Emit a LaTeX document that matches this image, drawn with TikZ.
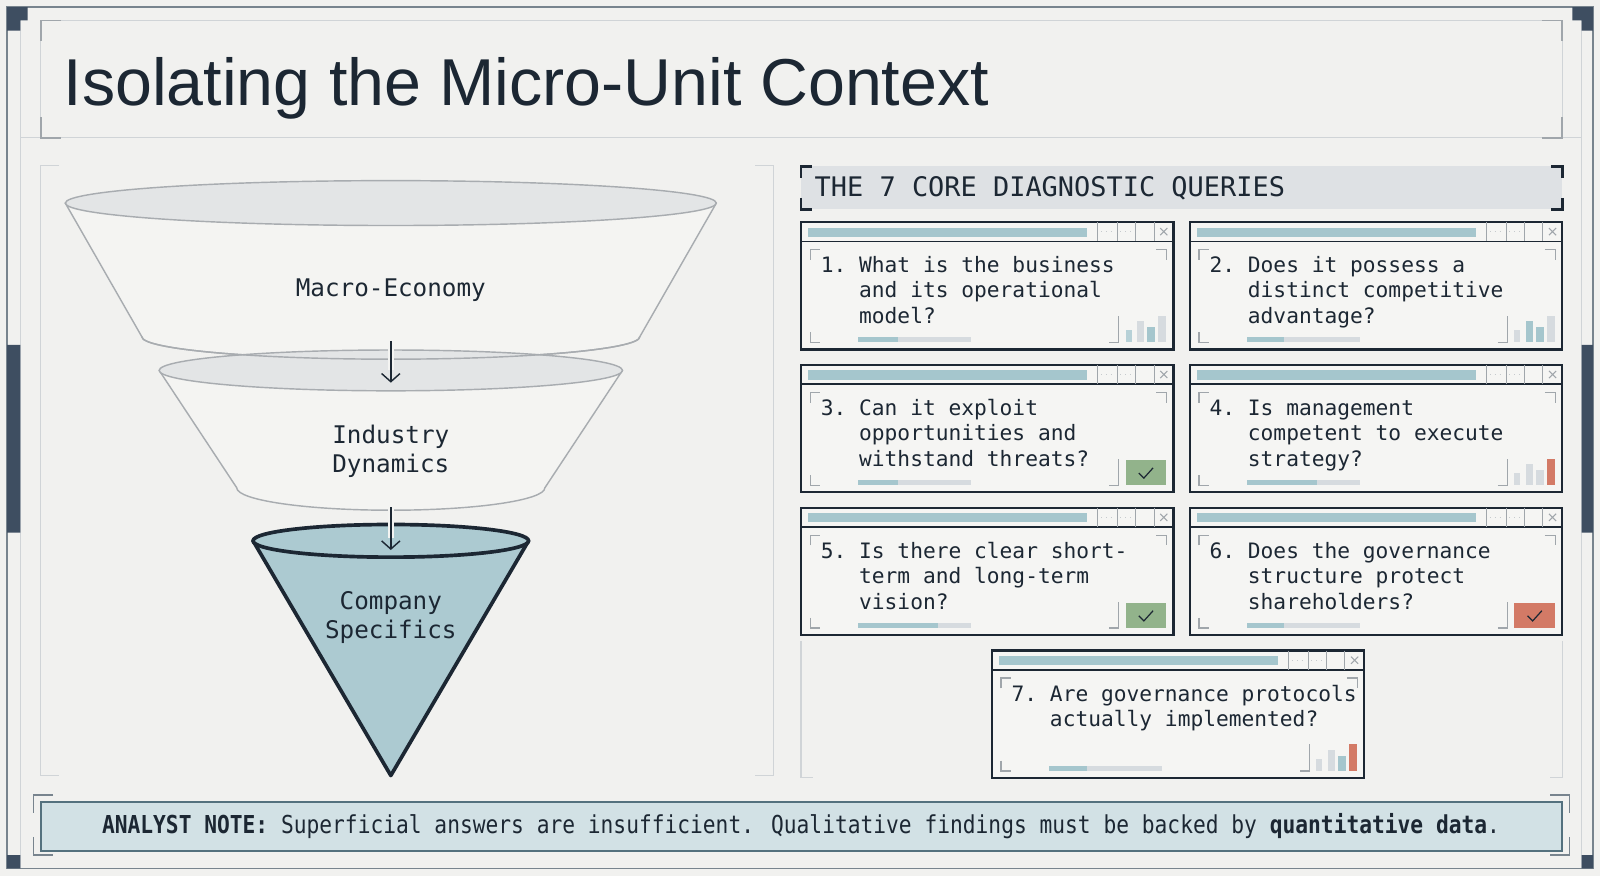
\documentclass[tikz,border=0pt]{standalone}
\usepackage{fontspec}
\setmainfont{Liberation Sans}
\setmonofont{DejaVu Sans Mono}
\newfontfamily\notefont{DejaVu Sans Mono}[FakeStretch=0.86]
\usetikzlibrary{arrows.meta, positioning}
\definecolor{pagebg}{RGB}{241,241,239}
\definecolor{layerfill}{RGB}{244,244,242}
\definecolor{cardbg}{RGB}{245,245,243}
\definecolor{inkdark}{RGB}{28,39,51}
\definecolor{navyblock}{RGB}{62,78,97}
\definecolor{outergray}{RGB}{120,132,142}
\definecolor{framegray}{RGB}{208,212,215}
\definecolor{tickgray}{RGB}{160,166,171}
\definecolor{diskgray}{RGB}{227,229,230}
\definecolor{rimgray}{RGB}{168,172,176}
\definecolor{tealfill}{RGB}{172,202,209}
\definecolor{tealbar}{RGB}{165,198,205}
\definecolor{trackgray}{RGB}{214,219,223}
\definecolor{bandgray}{RGB}{222,225,228}
\definecolor{notefill}{RGB}{210,225,229}
\definecolor{noteedge}{RGB}{84,113,126}
\definecolor{okgreen}{RGB}{146,179,139}
\definecolor{alertred}{RGB}{211,122,102}

% one query window: name, x, y, progress, text rows, corner decor
\newcommand{\querycard}[6]{%
  \begin{scope}[shift={(#2,#3)}]
    \node[cardbox] (#1) at (0,0) {};
    \draw[barline] (0,19) -- (365,19);
    \fill[tealbar] (7,5.5) rectangle (280,14.5);
    \foreach \bx in {291,310,328,346} \draw[btnline] (\bx,0) -- (\bx,19);
    \draw[btndots] (294,9.5) -- (307,9.5) (313,9.5) -- (325,9.5);
    \draw[btnline] (352,6) -- (359,13) (352,13) -- (359,6);
    \draw[cardcorner] (9,37) -- (9,27) -- (19,27);
    \draw[cardcorner] (348,27) -- (358,27) -- (358,37);
    \draw[cardcorner] (9,108) -- (9,118) -- (19,118);
    \draw[cardcorner] (302,118) -- (311,118) -- (311,92);
    \fill[trackgray] (56,113) rectangle (167,118);
    \fill[tealbar] (56,113) rectangle (56+#4,118);
    \node[question] (#1-q) at (19,49.5) {\begin{tabular}[t]{@{}l@{ }l@{}}#5\end{tabular}};
    #6
  \end{scope}}
\newcommand{\cardbars}[4]{%
  \fill[#1] (318,106) rectangle (324,118);
  \fill[#2] (329,97) rectangle (336,118);
  \fill[#3] (339,103) rectangle (347,118);
  \fill[#4] (350,92) rectangle (358,118);}
\newcommand{\cardcheck}[1]{%
  \fill[#1] (318,93) rectangle (358,118);
  \draw[checkline] (331,106) -- (336,111) -- (345,101);}

\begin{document}
\begin{tikzpicture}[x=0.5pt, y=-0.5pt,
    outerline/.style={draw=outergray, line width=0.7pt},
    framebox/.style={draw=framegray, line width=0.6pt},
    cornertick/.style={draw=tickgray, line width=0.8pt},
    darktick/.style={draw=inkdark, line width=1.3pt},
    block/.style={fill=navyblock},
    layer/.style={fill=layerfill, draw=rimgray, line width=0.7pt, line join=round},
    disk/.style={fill=diskgray, draw=rimgray, line width=0.7pt},
    corelayer/.style={fill=tealfill, draw=inkdark, line width=1.8pt, line join=round},
    layertext/.style={font=\ttfamily\fontsize{11.9}{14}\selectfont, text=inkdark, align=center, inner sep=0},
    flow/.style={-{Straight Barb[length=4pt,width=9pt]}, draw=inkdark, line width=0.7pt,
      preaction={draw=layerfill, line width=3pt, shorten >=6pt, -}},
    cardbox/.style={rectangle, draw=inkdark, line width=1.1pt, fill=cardbg, anchor=north west,
      minimum width=182.5pt, minimum height=62.5pt, inner sep=0, outer sep=0},
    barline/.style={draw=inkdark, line width=0.7pt},
    btnline/.style={draw=tickgray, line width=0.5pt},
    btndots/.style={draw=tickgray!60, line width=0.4pt, dotted},
    cardcorner/.style={draw=tickgray, line width=0.6pt},
    checkline/.style={draw=inkdark, line width=0.6pt},
    question/.style={anchor=base west, inner sep=0, text=inkdark, font=\ttfamily\fontsize{10.4}{12.5}\selectfont}
]
    % Page and outer frame
    \fill[pagebg] (0,0) rectangle (1568,858);
    \draw[outerline] (7,7) rectangle (1561,851);
    \draw[framebox] (20,7) -- (20,851) (1550,7) -- (1550,851);
    \fill[block] (7,7) rectangle (27,20) (7,20) rectangle (20,30);
    \fill[block] (1541,7) rectangle (1561,20) (1550,20) rectangle (1561,30);
    \fill[block] (7,838) rectangle (20,851) (1550,838) rectangle (1561,851);
    \fill[block] (7,338) rectangle (20,522) (1550,338) rectangle (1561,522);

    % Title
    \draw[framebox] (40,20) rectangle (1531,135) (20,135) -- (1550,135);
    \draw[cornertick] (40,40) -- (40,20) -- (60,20) (1511,20) -- (1531,20) -- (1531,40);
    \draw[cornertick] (40,115) -- (40,135) -- (60,135) (1511,135) -- (1531,135) -- (1531,115);
    \node[anchor=base west, inner sep=0, text=inkdark, font=\fontsize{32.5}{36}\selectfont] (title) at (62,103) {Isolating the Micro-Unit Context};

    % Panel frames
    \draw[framebox] (58,162) -- (40,162) -- (40,760) -- (58,760);
    \draw[framebox] (740,162) -- (758,162) -- (758,760) -- (740,760);
    \draw[framebox] (785,628) -- (785,762) -- (797,762);
    \draw[framebox] (1531,628) -- (1531,762) -- (1519,762);

    % Funnel
    \path[layer] (64,199) -- (139,330) arc[start angle=180, end angle=360, x radius=122pt, y radius=11pt] -- (702,199) -- cycle;
    \draw[disk] (383,199) ellipse[x radius=159.5pt, y radius=11pt];
    \path[layer] (156,363) -- (232,478) arc[start angle=180, end angle=360, x radius=75.5pt, y radius=11pt] -- (610,363) -- cycle;
    \draw[disk] (383,363) ellipse[x radius=113.5pt, y radius=10pt];
    \draw[draw=rimgray, line width=0.7pt] (139,330) arc[start angle=180, end angle=360, x radius=122pt, y radius=11pt];
    \path[corelayer] (248,530) -- (383,760) -- (518,530) -- cycle;
    \draw[corelayer] (383,530) ellipse[x radius=67.5pt, y radius=8pt];

    \node[layertext] (macro) at (383,284) {Macro-Economy};
    \node[layertext] (industry) at (383,442) {Industry\\Dynamics};
    \node[layertext] (company) at (383,605) {Company\\Specifics};

    \coordinate (flow1a) at (383,334);
    \coordinate (flow1b) at (383,375);
    \coordinate (flow2a) at (383,497);
    \coordinate (flow2b) at (383,539);
    \draw[flow] (flow1a) -- (flow1b);
    \draw[flow] (flow2a) -- (flow2b);

    % Query header
    \fill[bandgray] (785,163) rectangle (1531,205);
    \draw[darktick] (785,174) -- (785,163) -- (796,163) (785,194) -- (785,205) -- (796,205);
    \draw[darktick] (1520,163) -- (1531,163) -- (1531,174) (1531,194) -- (1531,205) -- (1520,205);
    \node[anchor=base west, inner sep=0, text=inkdark, font=\ttfamily\fontsize{13.2}{16}\selectfont] (queries) at (798,193) {THE 7 CORE DIAGNOSTIC QUERIES};

    % Query cards
    \querycard{q1}{785}{217.5}{39}{1. & What is the business\\ & and its operational\\ & model?}{\cardbars{tealbar!80}{trackgray}{tealbar}{trackgray}}
    \querycard{q2}{1166}{217.5}{36}{2. & Does it possess a\\ & distinct competitive\\ & advantage?}{\cardbars{trackgray}{tealbar}{tealbar}{trackgray}}
    \querycard{q3}{785}{357.5}{39}{3. & Can it exploit\\ & opportunities and\\ & withstand threats?}{\cardcheck{okgreen}}
    \querycard{q4}{1166}{357.5}{69}{4. & Is management\\ & competent to execute\\ & strategy?}{\cardbars{trackgray}{trackgray}{trackgray}{alertred}}
    \querycard{q5}{785}{497.5}{78}{5. & Is there clear short-\\ & term and long-term\\ & vision?}{\cardcheck{okgreen}}
    \querycard{q6}{1166}{497.5}{36}{6. & Does the governance\\ & structure protect\\ & shareholders?}{\cardcheck{alertred}}
    \querycard{q7}{972}{637.5}{37}{7. & Are governance protocols\\ & actually implemented?}{\cardbars{trackgray}{trackgray}{tealbar}{alertred}}

    % Analyst note
    \draw[fill=notefill, draw=noteedge, line width=0.8pt] (40,786) rectangle (1531,834);
    \draw[cornertick, draw=outergray] (52,779) -- (33,779) -- (33,797) (33,820) -- (33,838) -- (52,838);
    \draw[cornertick, draw=outergray] (1519,779) -- (1538,779) -- (1538,797) (1538,820) -- (1538,838) -- (1519,838);
    \node[inner sep=0, text=inkdark, font=\notefont\fontsize{12.1}{14}\selectfont] (note) at (785,810)
      {\textbf{ANALYST NOTE:} Superficial answers are insufficient. Qualitative findings must be backed by \textbf{quantitative data}.};
\end{tikzpicture}
\end{document}
